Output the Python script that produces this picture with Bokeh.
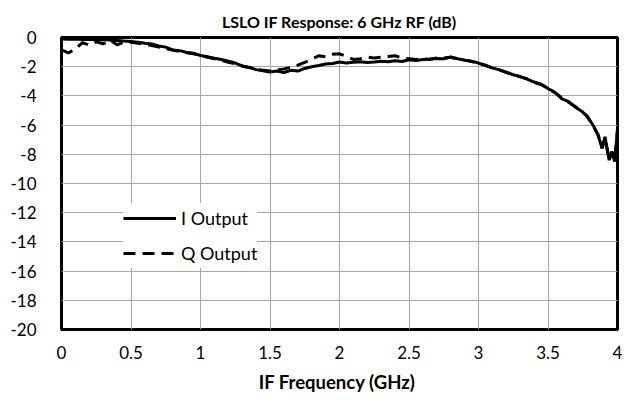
from bokeh.plotting import figure
from bokeh.models import Range1d, FixedTicker, Legend, LegendItem
from bokeh.embed import file_html
from bokeh.resources import INLINE

freq = [0.00, 0.05, 0.10, 0.15, 0.20, 0.25, 0.30, 0.35, 0.40, 0.45,
        0.50, 0.55, 0.60, 0.65, 0.70, 0.75, 0.80, 0.85, 0.90, 0.95,
        1.00, 1.05, 1.10, 1.15, 1.20, 1.25, 1.30, 1.35, 1.40, 1.45,
        1.50, 1.55, 1.60, 1.65, 1.70, 1.75, 1.80, 1.85, 1.90, 1.95,
        2.00, 2.05, 2.10, 2.15, 2.20, 2.25, 2.30, 2.35, 2.40, 2.45,
        2.50, 2.55, 2.60, 2.65, 2.70, 2.75, 2.80, 2.85, 2.90, 2.95,
        3.00, 3.05, 3.10, 3.15, 3.20, 3.25, 3.30, 3.35, 3.40, 3.45,
        3.50, 3.55, 3.60, 3.65, 3.70, 3.75, 3.78, 3.81, 3.83, 3.86,
        3.89, 3.91, 3.94, 3.96, 3.98, 4.00]

i_output = [-0.10, -0.12, -0.10, -0.14, -0.12, -0.15, -0.14, -0.18, -0.20, -0.24,
            -0.27, -0.32, -0.40, -0.45, -0.58, -0.66, -0.85, -0.90, -1.02, -1.08,
            -1.23, -1.32, -1.42, -1.50, -1.62, -1.75, -1.95, -2.05, -2.20, -2.28,
            -2.37, -2.30, -2.40, -2.25, -2.30, -2.12, -2.00, -1.92, -1.82, -1.78,
            -1.68, -1.74, -1.70, -1.66, -1.72, -1.68, -1.62, -1.66, -1.60, -1.64,
            -1.52, -1.58, -1.50, -1.48, -1.44, -1.46, -1.34, -1.45, -1.55, -1.62,
            -1.75, -1.92, -2.08, -2.22, -2.38, -2.55, -2.68, -2.85, -3.05, -3.20,
            -3.50, -3.75, -4.20, -4.40, -4.80, -5.10, -5.40, -5.80, -6.10, -6.70,
            -7.60, -6.80, -8.40, -7.80, -8.50, -6.30]

q_output = [-0.85, -1.05, -0.80, -0.35, -0.52, -0.30, -0.43, -0.20, -0.50, -0.30,
            -0.32, -0.40, -0.45, -0.55, -0.65, -0.75, -0.86, -0.95, -1.05, -1.12,
            -1.22, -1.35, -1.45, -1.55, -1.70, -1.80, -1.95, -2.05, -2.15, -2.25,
            -2.30, -2.22, -2.15, -2.05, -1.90, -1.70, -1.50, -1.25, -1.32, -1.15,
            -1.12, -1.30, -1.50, -1.45, -1.35, -1.40, -1.35, -1.30, -1.25, -1.40,
            -1.45, -1.50, -1.45, -1.50, -1.40, -1.40, -1.36, -1.47, -1.55, -1.64,
            -1.77, -1.90, -2.10, -2.20, -2.40, -2.52, -2.70, -2.83, -3.08, -3.22,
            -3.48, -3.78, -4.15, -4.45, -4.75, -5.15, -5.35, -5.85, -6.15, -6.65,
            -7.55, -6.85, -8.35, -7.85, -8.45, -6.35]

x_ticks = [0, 0.5, 1, 1.5, 2, 2.5, 3, 3.5, 4]
x_tick_labels = ["0", "0.5", "1", "1.5", "2", "2.5", "3", "3.5", "4"]
y_ticks = [0, -2, -4, -6, -8, -10, -12, -14, -16, -18, -20]
y_tick_labels = ["0", "-2", "-4", "-6", "-8", "-10", "-12", "-14", "-16", "-18", "-20"]

FONT = "Lato"

p = figure(width=626, height=395, output_backend="svg", toolbar_location=None,
           x_range=Range1d(0, 4), y_range=Range1d(-20, 0),
           title="LSLO IF Response: 6 GHz RF (dB)",
           min_border_left=61, min_border_right=9, min_border_top=37, min_border_bottom=65)

p.title.align = "center"
p.title.text_font = FONT
p.title.text_font_size = "16px"
p.title.text_font_style = "bold"
p.title.text_color = "black"
p.title.standoff = 13

p.outline_line_color = "black"
p.outline_line_width = 3

p.xaxis.ticker = FixedTicker(ticks=x_ticks)
p.xaxis.major_label_overrides = {t: l for t, l in zip(x_ticks, x_tick_labels)}
p.yaxis.ticker = FixedTicker(ticks=y_ticks)
p.yaxis.major_label_overrides = {t: l for t, l in zip(y_ticks, y_tick_labels)}

for ax in (p.xaxis, p.yaxis):
    ax.axis_line_color = None
    ax.major_tick_line_color = None
    ax.minor_tick_line_color = None
    ax.major_label_text_font = FONT
    ax.major_label_text_font_size = "17px"
    ax.major_label_text_color = "black"

p.xaxis.major_label_standoff = 10
p.yaxis.major_label_standoff = 19
p.xaxis.axis_label = "IF Frequency  (GHz)"
p.xaxis.axis_label_text_font = FONT
p.xaxis.axis_label_text_font_size = "18.5px"
p.xaxis.axis_label_text_font_style = "bold"
p.xaxis.axis_label_standoff = 9
p.xaxis.axis_label_text_color = "black"

p.xgrid.grid_line_color = "#a6a6a6"
p.ygrid.grid_line_color = "#a6a6a6"
p.xgrid.grid_line_width = 1
p.ygrid.grid_line_width = 1

r_i = p.line(freq, i_output, line_color="black", line_width=3)
r_q = p.line(freq, q_output, line_color="black", line_width=3, line_dash="12 7")

legend = Legend(items=[LegendItem(label="I Output", renderers=[r_i]),
                       LegendItem(label="Q Output", renderers=[r_q])],
                location=(62, 61), border_line_color=None,
                background_fill_color="white", background_fill_alpha=1.0,
                label_text_font=FONT, label_text_font_size="18px",
                label_text_color="black",
                glyph_width=53, glyph_height=30, label_height=30,
                label_standoff=5, spacing=5, padding=6, margin=0)
p.add_layout(legend, "center")

open("out.html", "w").write(file_html(p, INLINE))
